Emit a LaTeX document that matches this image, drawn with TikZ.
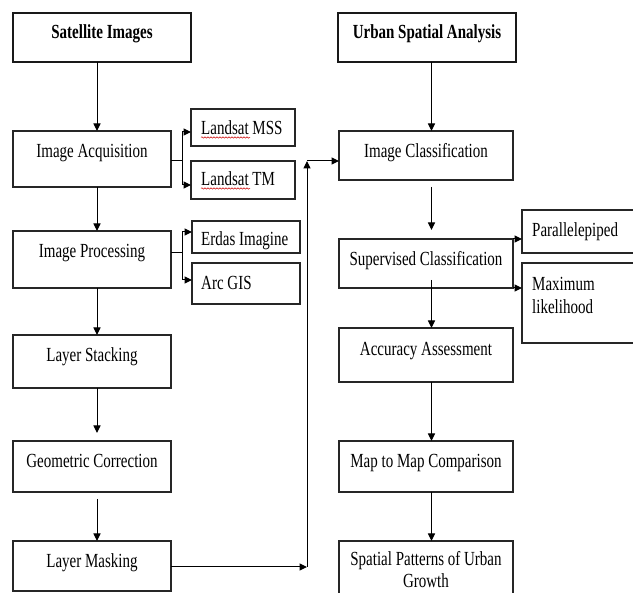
\documentclass[tikz,border=0pt]{standalone}
\usepackage{fontspec}
\setmainfont{Liberation Serif}[FakeStretch=0.75]
\usetikzlibrary{arrows.meta,decorations.pathmorphing}
\begin{document}
\begin{tikzpicture}[x=1pt,y=-1pt,
  box/.style={draw=black!85, line width=1.2pt, inner sep=0pt, outer sep=0pt},
  hbox/.style={draw=black!90, line width=2.7pt, inner sep=0pt, outer sep=0pt},
  txt/.style={inner sep=0pt, anchor=base, font=\fontsize{20}{22.5}\selectfont},
  ltxt/.style={inner sep=0pt, anchor=base west, font=\fontsize{20}{22.5}\selectfont},
  btxt/.style={inner sep=0pt, anchor=base, font=\fontsize{20}{22.5}\selectfont\bfseries},
  arr/.style={draw=black, line width=1pt, -{Triangle[length=7.5pt,width=7pt]}},
  ln/.style={draw=black, line width=1pt},
  squig/.style={draw=red!80!black, line width=0.5pt, decorate, decoration={snake, amplitude=0.7pt, segment length=3pt}}
]
\fill[white] (0,0) rectangle (633,593);
\clip (0,0) rectangle (633,593);

% column coordinates
\coordinate (lx) at (97,0);
\coordinate (rx) at (431.5,0);
\coordinate (bx) at (182,0);

% left column boxes
\node[hbox, minimum width=178pt, minimum height=49pt] (sat) at (102,37.5) {};
\node[btxt] (tsat) at (102,39) {Satellite Images};

\node[box, minimum width=158pt, minimum height=56pt] (acq) at (92,159) {};
\node[txt] (tacq) at (92,158) {Image Acquisition};

\node[box, minimum width=104pt, minimum height=37pt] (mss) at (243,127.5) {};
\node[ltxt] (tmss) at (201,135) {Landsat MSS};
\node[box, minimum width=104pt, minimum height=38pt] (tm) at (243,180) {};
\node[ltxt] (ttm) at (201,186) {Landsat TM};
\draw[squig] (201,137.5) -- (250,137.5);
\draw[squig] (201,188.5) -- (250,188.5);

\node[box, minimum width=158pt, minimum height=57pt] (proc) at (92,259.5) {};
\node[txt] (tproc) at (92,258) {Image Processing};

\node[box, minimum width=108pt, minimum height=32pt] (erdas) at (246,237) {};
\node[ltxt] (terdas) at (201,246) {Erdas Imagine};
\node[box, minimum width=108pt, minimum height=41pt] (arc) at (246,283.5) {};
\node[ltxt] (tarc) at (201,290) {Arc GIS};

\node[box, minimum width=158pt, minimum height=53pt] (stack) at (92,361.5) {};
\node[txt] (tstack) at (92,362) {Layer Stacking};

\node[box, minimum width=158pt, minimum height=51pt] (geo) at (92,466.5) {};
\node[txt] (tgeo) at (92,468) {Geometric Correction};

\node[box, minimum width=158pt, minimum height=50pt] (mask) at (92,566) {};
\node[txt] (tmask) at (92,568) {Layer Masking};

% right column boxes
\node[hbox, minimum width=178pt, minimum height=49pt] (usa) at (427,37.5) {};
\node[btxt] (tusa) at (427,39) {Urban Spatial Analysis};

\node[box, minimum width=174pt, minimum height=49pt] (cls) at (426,155.5) {};
\node[txt] (tcls) at (426,158) {Image Classification};

\node[box, minimum width=174pt, minimum height=49pt] (sup) at (426,263.5) {};
\node[txt] (tsup) at (426,266) {Supervised Classification};

\node[box, minimum width=128pt, minimum height=43pt] (par) at (586,231.5) {};
\node[ltxt] (tpar) at (532,237) {Parallelepiped};
\node[box, minimum width=128pt, minimum height=80pt] (max) at (586,303) {};
\node[ltxt] (tmax1) at (532,291) {Maximum};
\node[ltxt] (tmax2) at (532,314) {likelihood};

\node[box, minimum width=174pt, minimum height=54pt] (acc) at (426,355) {};
\node[txt] (tacc) at (426,356) {Accuracy Assessment};

\node[box, minimum width=174pt, minimum height=51pt] (map) at (426,466.5) {};
\node[txt] (tmap) at (426,468) {Map to Map Comparison};

\node[box, minimum width=174pt, minimum height=69pt] (spat) at (426,575.5) {};
\node[txt] (tspat1) at (426,566) {Spatial Patterns of Urban};
\node[txt] (tspat2) at (426,588) {Growth};

% left column connectors
\draw[arr] (lx |- sat.south) -- (lx |- acq.north);
\draw[arr] (lx |- acq.south) -- (lx |- proc.north);
\draw[arr] (lx |- proc.south) -- (lx |- stack.north);
\draw[arr, shorten >=8pt] (lx |- stack.south) -- (lx |- geo.north);
\draw[arr, shorten <=7pt] (lx |- geo.south) -- (lx |- mask.north);

% branches
\coordinate (b1) at (182,161);
\draw[ln] (acq.east |- b1) -- (b1);
\draw[ln] (bx |- 0,132) -- (bx |- 0,185);
\draw[arr] (bx |- 0,132) -- (mss.west |- 0,132);
\draw[arr] (bx |- 0,185) -- (tm.west |- 0,185);

\coordinate (b2) at (182,253);
\draw[ln] (proc.east |- b2) -- (b2);
\draw[ln] (bx |- 0,232) -- (bx |- 0,280);
\draw[arr] (bx |- 0,232) -- (erdas.west |- 0,232);
\draw[arr] (bx |- 0,280) -- (arc.west |- 0,280);

\draw[arr] (sup.north east) -- (par.west |- sup.north east);
\draw[arr] (sup.south east) -- (max.west |- sup.south east);

% right column connectors
\draw[arr] (rx |- usa.south) -- (rx |- cls.north);
\draw[arr, shorten <=7pt, shorten >=9pt] (rx |- cls.south) -- (rx |- sup.north);
\draw[arr, shorten <=-8pt] (rx |- sup.south) -- (rx |- acc.north);
\draw[arr] (rx |- acc.south) -- (rx |- map.north);
\draw[arr] (rx |- map.south) -- (rx |- spat.north);

% feedback
\coordinate (f1) at (307,567);
\coordinate (f2) at (307,161);
\draw[arr] (mask.east |- f1) -- (f1);
\draw[arr] (f1) -- (f2);
\draw[arr] (f2) -- (cls.west |- f2);
\end{tikzpicture}
\end{document}
